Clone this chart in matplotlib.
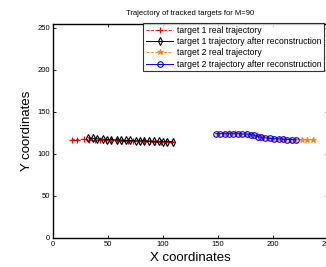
import matplotlib
matplotlib.use('Agg')
import matplotlib.pyplot as plt

plt.rcParams['font.family'] = ['Liberation Sans', 'DejaVu Sans']

# target 1 real trajectory
t1_real_x = [17, 22, 28, 33, 38, 43, 48, 53, 58, 63, 68, 73, 78, 83, 88, 93, 98, 103, 108]
t1_real_y = [117, 117, 117.5, 117, 116.5, 116.5, 116, 116, 116, 115.5, 115.5, 115.5, 115, 115, 115,
             114.5, 114.5, 114.5, 114.5]

# target 1 after reconstruction
t1_rec_x = [32, 36, 40, 45, 49, 53, 58, 62, 66, 70, 75, 79, 83, 87, 92, 96, 100, 104, 109]
t1_rec_y = [119, 118.5, 118, 117.5, 117, 117, 116.5, 116.5, 116, 116, 115.5, 115.5, 115.5, 115, 115,
            115, 114.5, 114.5, 114.5]

# target 2 real trajectory
t2_real_x = [150, 155, 160, 165, 170, 175, 180, 185, 190, 195, 200, 205, 210, 215, 220, 226, 231, 236]
t2_real_y = [124, 124, 124.5, 124.5, 124, 123.5, 123, 122, 120, 118.5, 118, 117.5, 117.5, 117, 117,
             117, 117, 117]

# target 2 after reconstruction
t2_rec_x = [148, 152, 156, 160, 164, 168, 172, 176, 180, 183, 186, 189, 193, 197, 201, 205, 209,
            213, 217, 221]
t2_rec_y = [124, 124, 124, 124, 124, 124, 123.5, 123.5, 123, 122, 120.5, 119.5, 119, 118.5, 118,
            118, 117.5, 117, 117, 117]

labels = ['target 1 real trajectory',
          'target 1 trajectory after reconstruction',
          'target 2 real trajectory',
          'target 2 trajectory after reconstruction']

fig = plt.figure(figsize=(3.26, 2.67), dpi=100)
ax = fig.add_axes([53 / 326, 1 - 238 / 267, 275 / 326, 214.5 / 267])

ax.plot(t1_real_x, t1_real_y, '--', color='#ff0000', marker='+', ms=5, mew=0.9, lw=0.6,
        label=labels[0])
ax.plot(t1_rec_x, t1_rec_y, '-', color='black', marker='d', ms=4, mfc='none', mew=0.8, lw=0.7,
        label=labels[1])
ax.plot(t2_real_x, t2_real_y, '--', color='#ff8000', marker='*', ms=4, mew=0.6, lw=0.6,
        label=labels[2])
ax.plot(t2_rec_x, t2_rec_y, '-', color='#0000ff', marker='o', ms=4, mfc='none', mew=0.8, lw=0.7,
        label=labels[3])

ax.set_xlim(0, 250)
ax.set_ylim(0, 255)
ax.set_xticks([0, 50, 100, 150, 200, 250])
ax.set_yticks([0, 50, 100, 150, 200, 250])
ax.tick_params(direction='in', length=2.5, width=0.6, labelsize=5.5, top=True, right=True, pad=2)
for s in ax.spines.values():
    s.set_linewidth(1.0)

ax.set_title('Trajectory of tracked targets for M=90', fontsize=5.5, pad=6)
ax.set_xlabel('X coordinates', fontsize=9.5, labelpad=3)
ax.set_ylabel('Y coordinates', fontsize=9.5, labelpad=3)

leg = ax.legend(loc='upper right', fontsize=6.2, frameon=True, fancybox=False, handlelength=3.2,
                numpoints=1, borderpad=0.3, labelspacing=0.25, handletextpad=0.4, borderaxespad=0,
                bbox_to_anchor=(324 / 326, 1 - 23.5 / 267), bbox_transform=fig.transFigure)
leg.get_frame().set_edgecolor('black')
leg.get_frame().set_linewidth(0.8)

fig.savefig('out.png', dpi=100)
